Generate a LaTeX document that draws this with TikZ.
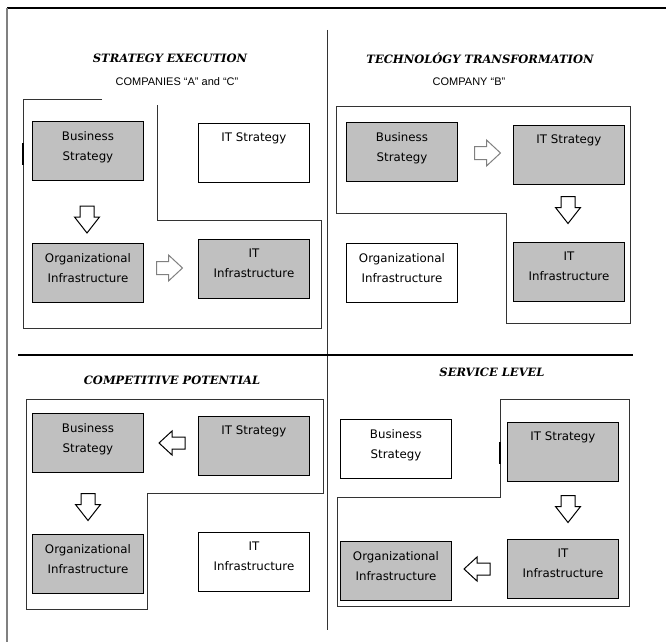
\documentclass[tikz,border=0pt]{standalone}
\usepackage{fontspec}
\newfontfamily\boxfont{DejaVu Sans}
\newfontfamily\titlefont{DejaVu Serif}
\newfontfamily\subfont{Liberation Sans}
\definecolor{boxgray}{HTML}{C0C0C0}
\definecolor{linegray}{HTML}{333333}
\definecolor{arrowgray}{HTML}{808080}
\tikzset{
  qbox/.style={draw=black, line width=0.9pt, minimum width=111pt, minimum height=59pt, inner sep=0pt, anchor=north west},
  qgray/.style={qbox, fill=boxgray},
  qwhite/.style={qbox, fill=white},
  qtext/.style={anchor=north, inner sep=0pt, align=center, font=\boxfont\fontsize{11.8}{20}\selectfont},
  qtitle/.style={inner sep=0pt, font=\titlefont\bfseries\itshape\fontsize{11.5}{14}\selectfont},
  qsub/.style={inner sep=0pt, font=\subfont\fontsize{11}{13}\selectfont},
  blockarrow/.style={draw=black, fill=white, line width=1pt, line join=miter},
  grayarrow/.style={blockarrow, draw=arrowgray},
  region/.style={draw=linegray, line width=0.8pt},
}
% box: name, x, y, style, text
\newcommand{\qb}[5]{\node[#4] (#1) at (#2,#3) {};\node[qtext] (#1t) at ([yshift=-10pt]#1.north) {#5};}
% block arrow: name, x, y, rotation, length L, head length h, shaft half s, head half w, style
\newcommand{\qarrow}[9]{%
  \coordinate (#1) at (#2,#3);
  \draw[#9, shift={(#1)}, rotate=#4]
    ({-#5/2},{-#7}) -- ({#5/2-#6},{-#7}) -- ({#5/2-#6},{-#8}) -- ({#5/2},0)
    -- ({#5/2-#6},{#8}) -- ({#5/2-#6},{#7}) -- ({-#5/2},{#7}) -- cycle;}
\begin{document}
\begin{tikzpicture}[x=1pt,y=-1pt]
\useasboundingbox (0,0) rectangle (666,642);
% frame and dividers
\draw[black, line width=1.4pt] (7,8) -- (666,8);
\draw[arrowgray, line width=1.8pt] (7,8) -- (7,642);
\draw[linegray, line width=1pt] (327,30) -- (327,630);
\draw[black, line width=1.8pt] (18,355) -- (633,355);
% titles
\node[qtitle] (t1) at (170,58) {STRATEGY EXECUTION};
\node[qsub] (s1) at (177,82) {COMPANIES “A” and “C”};
\node[qtitle] (t2) at (480,58) {TECHNOLÓGY TRANSFORMATION};
\node[qsub] (s2) at (469,82) {COMPANY “B”};
\node[qtitle] (t3) at (172,380) {COMPETITIVE POTENTIAL};
\node[qtitle] (t4) at (492,372) {SERVICE LEVEL};
% regions
\draw[region] (102,99) -- (23,99) -- (23,328) -- (321,328) -- (321,220) -- (157,220) -- (157,105);
\draw[black, line width=2.2pt] (23,143) -- (23,165);
\draw[region] (336,106) -- (630,106) -- (630,323) -- (506,323) -- (506,213) -- (336,213) -- cycle;
\draw[region] (26,399) -- (323,399) -- (323,493) -- (147,493) -- (147,609) -- (26,609) -- cycle;
\draw[region] (500,399) -- (629,399) -- (629,606) -- (337,606) -- (337,497) -- (500,497) -- cycle;
\draw[black, line width=2pt] (500,442) -- (500,464);
% top-left
\qb{a1}{32}{121}{qgray}{Business\\Strategy}
\qb{a2}{198}{123}{qwhite}{IT Strategy}
\qb{a3}{32}{243}{qgray}{Organizational\\Infrastructure}
\qb{a4}{198}{239}{qgray}{IT\\Infrastructure}
\qarrow{ar1}{87}{219.5}{-90}{27}{16}{7}{12.5}{blockarrow}
\qarrow{ar2}{169.5}{268}{0}{26}{14}{6.5}{13}{grayarrow}
% top-right
\qb{b1}{346}{122}{qgray}{Business\\Strategy}
\qb{b2}{513}{125}{qgray}{IT Strategy}
\qb{b3}{346}{243}{qwhite}{Organizational\\Infrastructure}
\qb{b4}{513}{242}{qgray}{IT\\Infrastructure}
\qarrow{ar3}{487.5}{153}{0}{26}{14}{6.5}{13}{grayarrow}
\qarrow{ar4}{568}{210}{-90}{27}{16}{7}{12.5}{blockarrow}
% bottom-left
\qb{c1}{32}{413}{qgray}{Business\\Strategy}
\qb{c2}{198}{416}{qgray}{IT Strategy}
\qb{c3}{32}{534}{qgray}{Organizational\\Infrastructure}
\qb{c4}{198}{532}{qwhite}{IT\\Infrastructure}
\qarrow{ar5}{172}{443}{180}{26}{13}{6}{12}{blockarrow}
\qarrow{ar6}{88}{507}{-90}{27}{16}{7}{12.5}{blockarrow}
% bottom-right
\qb{d1}{340}{419}{qwhite}{Business\\Strategy}
\qb{d2}{507}{422}{qgray}{IT Strategy}
\qb{d3}{340}{541}{qgray}{Organizational\\Infrastructure}
\qb{d4}{507}{539}{qgray}{IT\\Infrastructure}
\qarrow{ar7}{568}{509}{-90}{27}{16}{7}{12.5}{blockarrow}
\qarrow{ar8}{477}{569}{180}{26}{13}{6}{12}{blockarrow}
\end{tikzpicture}
\end{document}
